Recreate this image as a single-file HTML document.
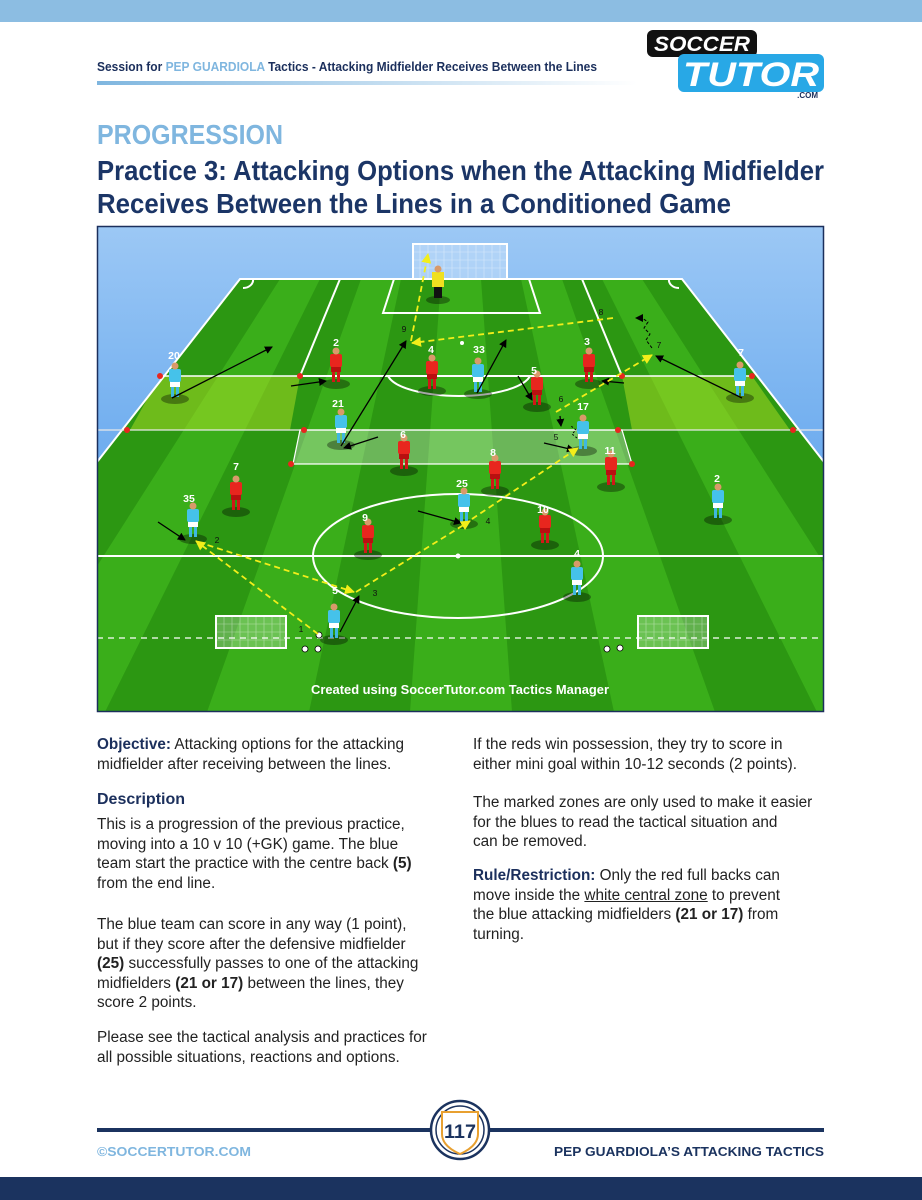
<!DOCTYPE html>
<html><head><meta charset="utf-8"><style>
body{margin:0;width:922px;height:1200px;position:relative;background:#fff;font-family:"Liberation Sans",sans-serif;overflow:hidden}
.p{position:absolute;font-size:15.3px;line-height:19.6px;color:#222;margin:0;white-space:nowrap}
.h{font-weight:bold;color:#1b2f5c}
</style></head><body>
<div style="position:absolute;left:0;top:0;width:922px;height:22px;background:#8cbde2"></div>
<div style="position:absolute;left:0;top:1177px;width:922px;height:23px;background:#1b335f"></div>
<svg width="922" height="1200" style="position:absolute;left:0;top:0">
<defs>
<linearGradient id="ul" x1="0" x2="1"><stop offset="0" stop-color="#7fb6df"/><stop offset="1" stop-color="#7fb6df" stop-opacity="0"/></linearGradient>
<linearGradient id="sky" x1="0" y1="0" x2="0" y2="1"><stop offset="0" stop-color="#9cc8f5"/><stop offset="1" stop-color="#3b8ee8"/></linearGradient>
<clipPath id="pc"><polygon points="240,279 682,279 824,462 824,712 97,712 97,462"/></clipPath>
<clipPath id="fr"><rect x="97" y="226" width="727" height="486"/></clipPath>
<g id="bp"><ellipse cx="0" cy="2" rx="14" ry="5" fill="rgba(0,0,0,.35)"/><rect x="-4" y="-11" width="3" height="11" fill="#3fb8e0"/><rect x="1" y="-11" width="3" height="11" fill="#3fb8e0"/><rect x="-5" y="-16" width="10" height="6" fill="#fff"/><rect x="-6" y="-28" width="12" height="13" rx="2" fill="#45c2ea"/><circle cx="0" cy="-31" r="3.5" fill="#d99a6a"/></g>
<g id="rp"><ellipse cx="0" cy="2" rx="14" ry="5" fill="rgba(0,0,0,.35)"/><rect x="-4" y="-11" width="3" height="11" fill="#d01818"/><rect x="1" y="-11" width="3" height="11" fill="#d01818"/><rect x="-5" y="-16" width="10" height="6" fill="#b81010"/><rect x="-6" y="-28" width="12" height="13" rx="2" fill="#e8261e"/><circle cx="0" cy="-31" r="3.5" fill="#d99a6a"/></g>
<marker id="ab" markerWidth="8" markerHeight="8" refX="7" refY="4" orient="auto" markerUnits="userSpaceOnUse"><path d="M0,0 L8,4 L0,8z" fill="#000"/></marker>
<marker id="ay" markerWidth="10" markerHeight="10" refX="9" refY="5" orient="auto" markerUnits="userSpaceOnUse"><path d="M0,0 L10,5 L0,10z" fill="#f2ee1a"/></marker>
</defs>
<text x="97" y="71" font-size="12.5" font-weight="bold" fill="#1b2f5c" textLength="500" lengthAdjust="spacingAndGlyphs">Session for <tspan fill="#7fb6df">PEP GUARDIOLA</tspan> Tactics - Attacking Midfielder Receives Between the Lines</text>
<rect x="97" y="81" width="540" height="4" fill="url(#ul)"/>
<rect x="647" y="30" width="110" height="27" rx="6" fill="#111"/>
<text x="702" y="51" font-size="21" font-weight="bold" font-style="italic" fill="#fff" text-anchor="middle" textLength="96" lengthAdjust="spacingAndGlyphs">SOCCER</text>
<rect x="678" y="54" width="146" height="38" rx="6" fill="#28a8e6"/>
<text x="751" y="86" font-size="34" font-weight="bold" font-style="italic" fill="#fff" text-anchor="middle" textLength="136" lengthAdjust="spacingAndGlyphs">TUTOR</text>
<text x="818" y="98" font-size="8" font-weight="bold" fill="#1b2f5c" text-anchor="end">.COM</text>
<text x="97" y="144" font-size="28" font-weight="bold" fill="#7fb6df" textLength="186" lengthAdjust="spacingAndGlyphs">PROGRESSION</text>
<text x="97" y="180" font-size="28" font-weight="bold" fill="#1b3566" textLength="727" lengthAdjust="spacingAndGlyphs">Practice 3: Attacking Options when the Attacking Midfielder</text>
<text x="97" y="213" font-size="28" font-weight="bold" fill="#1b3566" textLength="634" lengthAdjust="spacingAndGlyphs">Receives Between the Lines in a Conditioned Game</text>
<rect x="97" y="226" width="727" height="486" fill="url(#sky)"/>
<g clip-path="url(#fr)">
<g clip-path="url(#pc)">
<rect x="0" y="279" width="922" height="433" fill="#3aae1a"/>
<g fill="#2c9712">
<polygon points="79,279 119,279 -403,712 -505,712"/>
<polygon points="160,279 200,279 -200,712 -302,712"/>
<polygon points="240,279 280,279 4,712 -98,712"/>
<polygon points="320,279 361,279 207,712 105,712"/>
<polygon points="401,279 441,279 410,712 309,712"/>
<polygon points="481,279 521,279 614,712 512,712"/>
<polygon points="562,279 602,279 817,712 715,712"/>
<polygon points="642,279 682,279 1020,712 919,712"/>
<polygon points="722,279 763,279 1224,712 1122,712"/>
</g>
<polygon points="160,376 300,376 290,430 130,430" fill="rgba(190,230,40,.45)"/>
<polygon points="622,376 752,376 790,430 632,430" fill="rgba(190,230,40,.45)"/>
<polygon points="300,430 622,430 632,464 293,464" fill="rgba(255,255,255,.3)"/>
</g>
<g stroke="#fff" stroke-width="2" fill="none">
<polyline points="97,462 240,279 682,279 824,462"/>
<line x1="300" y1="376" x2="622" y2="376"/>
<line x1="340" y1="279" x2="300" y2="376"/>
<line x1="582" y1="279" x2="622" y2="376"/>
<line x1="160" y1="376" x2="300" y2="376" stroke-width="1.5"/>
<line x1="622" y1="376" x2="752" y2="376" stroke-width="1.5"/>
<polyline points="394,279 383,313 540,313 529,279"/>
<path d="M388,376 A72,24 0 0 0 530,376"/>
<line x1="97" y1="430" x2="824" y2="430" stroke-width="1.2" stroke="#e8e8e8"/>
<polygon points="300,430 622,430 632,464 293,464" stroke-width="1.2"/>
<line x1="97" y1="556" x2="824" y2="556"/>
<ellipse cx="458" cy="556" rx="145" ry="62"/>
<line x1="97" y1="638" x2="824" y2="638" stroke-dasharray="6,5" stroke-width="1.2"/>
<path d="M253,279 A10,8 0 0 1 243,288"/><path d="M669,279 A10,8 0 0 0 679,288"/>
</g>
<circle cx="458" cy="556" r="2.5" fill="#fff"/><circle cx="462" cy="343" r="2" fill="#fff"/>
<g stroke="#fff" fill="rgba(255,255,255,.25)">
<rect x="413" y="244" width="94" height="35" stroke-width="2"/>
<rect x="216" y="616" width="70" height="32" stroke-width="2"/>
<rect x="638" y="616" width="70" height="32" stroke-width="2"/>
</g>
<g stroke="rgba(255,255,255,.5)" stroke-width=".6">
<path d="M420,244v35M428,244v35M436,244v35M444,244v35M452,244v35M460,244v35M468,244v35M476,244v35M484,244v35M492,244v35M500,244v35M413,252h94M413,260h94M413,268h94"/>
<path d="M224,616v32M232,616v32M240,616v32M248,616v32M256,616v32M264,616v32M272,616v32M280,616v32M216,624h70M216,632h70M216,640h70"/>
<path d="M646,616v32M654,616v32M662,616v32M670,616v32M678,616v32M686,616v32M694,616v32M702,616v32M638,624h70M638,632h70M638,640h70"/>
</g>
<g fill="#e8261e"><circle cx="160" cy="376" r="3"/><circle cx="300" cy="376" r="3"/><circle cx="622" cy="376" r="3"/><circle cx="752" cy="376" r="3"/><circle cx="127" cy="430" r="3"/><circle cx="304" cy="430" r="3"/><circle cx="618" cy="430" r="3"/><circle cx="793" cy="430" r="3"/><circle cx="291" cy="464" r="3"/><circle cx="632" cy="464" r="3"/></g>
<g fill="#fff" stroke="#000" stroke-width=".8"><circle cx="319" cy="635" r="3"/><circle cx="305" cy="649" r="3"/><circle cx="318" cy="649" r="3"/><circle cx="607" cy="649" r="3"/><circle cx="620" cy="648" r="3"/></g>
<g transform="translate(438,298)"><ellipse cx="0" cy="2" rx="12" ry="4" fill="rgba(0,0,0,.35)"/><rect x="-4" y="-11" width="8" height="11" fill="#111"/><rect x="-6" y="-26" width="12" height="15" fill="#f0e020"/><circle cx="0" cy="-29" r="3.5" fill="#d99a6a"/></g>
<use href="#bp" x="175" y="397"/><use href="#bp" x="478" y="392"/><use href="#bp" x="740" y="396"/>
<use href="#bp" x="341" y="443"/><use href="#bp" x="583" y="449"/><use href="#bp" x="464" y="522"/>
<use href="#bp" x="193" y="537"/><use href="#bp" x="718" y="518"/><use href="#bp" x="577" y="595"/><use href="#bp" x="334" y="638"/>
<use href="#rp" x="336" y="382"/><use href="#rp" x="432" y="389"/><use href="#rp" x="537" y="405"/><use href="#rp" x="589" y="382"/>
<use href="#rp" x="404" y="469"/><use href="#rp" x="495" y="489"/><use href="#rp" x="611" y="485"/><use href="#rp" x="236" y="510"/>
<use href="#rp" x="368" y="553"/><use href="#rp" x="545" y="543"/>
<g fill="#fff" font-size="10.5" font-weight="bold" text-anchor="middle">
<text x="174" y="359">20</text><text x="336" y="346">2</text><text x="431" y="353">4</text><text x="479" y="353">33</text><text x="534" y="374">5</text><text x="587" y="345">3</text><text x="741" y="356">7</text>
<text x="338" y="407">21</text><text x="583" y="410">17</text><text x="403" y="438">6</text><text x="493" y="456">8</text><text x="610" y="454">11</text>
<text x="236" y="470">7</text><text x="462" y="487">25</text><text x="189" y="502">35</text><text x="717" y="482">2</text><text x="365" y="521">9</text><text x="543" y="513">10</text><text x="577" y="557">4</text><text x="335" y="594">5</text>
</g>
<g fill="#111" font-size="8.5" text-anchor="middle">
<text x="301" y="632">1</text><text x="217" y="543">2</text><text x="375" y="596">3</text><text x="488" y="524">4</text><text x="556" y="440">5</text><text x="561" y="402">6</text><text x="659" y="348">7</text><text x="601" y="315">8</text><text x="404" y="332">9</text>
</g>
<g stroke="#000" stroke-width="1.3" marker-end="url(#ab)">
<line x1="172" y1="398" x2="272" y2="347"/><line x1="291" y1="386" x2="326" y2="381"/>
<line x1="341" y1="446" x2="406" y2="341"/><line x1="378" y1="437" x2="344" y2="448"/>
<line x1="477" y1="393" x2="506" y2="340"/><line x1="518" y1="376" x2="532" y2="400"/>
<line x1="624" y1="383" x2="602" y2="381"/><line x1="742" y1="398" x2="656" y2="356"/>
<line x1="544" y1="443" x2="574" y2="450"/><line x1="560" y1="416" x2="561" y2="426"/>
<line x1="158" y1="522" x2="185" y2="540"/><line x1="418" y1="511" x2="461" y2="523"/>
<line x1="340" y1="632" x2="359" y2="596"/>
</g>
<path d="M652,348 l-6,-8 l4,-6 l-6,-6 l4,-6 l-6,-4 l-6,0" stroke="#000" stroke-width="1" stroke-dasharray="3,2" fill="none" marker-end="url(#ab)"/>
<path d="M577,438 l-5,-4 l4,-4 l-5,-4" stroke="#000" stroke-width="1" stroke-dasharray="2,2" fill="none"/>
<g stroke="#f2ee1a" stroke-width="1.8" stroke-dasharray="6,4" fill="none" marker-end="url(#ay)">
<line x1="318" y1="634" x2="196" y2="541"/><line x1="198" y1="542" x2="354" y2="592"/>
<line x1="356" y1="592" x2="470" y2="521"/><line x1="472" y1="519" x2="578" y2="448"/>
<line x1="556" y1="412" x2="652" y2="355"/><line x1="613" y1="318" x2="412" y2="343"/>
<line x1="411" y1="341" x2="428" y2="254"/>
</g>
<text x="460" y="694" font-size="12.5" font-weight="bold" fill="#fff" text-anchor="middle" textLength="298" lengthAdjust="spacingAndGlyphs">Created using SoccerTutor.com Tactics Manager</text>
</g>
<rect x="97.5" y="226.5" width="726" height="485" fill="none" stroke="#1b2f5c" stroke-width="1.5"/>
<rect x="97" y="1128" width="727" height="4" fill="#1b335f"/>
<circle cx="460" cy="1130" r="29" fill="#fff" stroke="#1b335f" stroke-width="2.5"/>
<circle cx="460" cy="1130" r="24" fill="none" stroke="#1b335f" stroke-width="1.5"/>
<path d="M442,1112 h36 v22 q0,12 -18,20 q-18,-8 -18,-20z" fill="#fff" stroke="#e8a030" stroke-width="2"/>
<text x="460" y="1138" font-size="19" font-weight="bold" fill="#1b335f" text-anchor="middle" textLength="32" lengthAdjust="spacingAndGlyphs">117</text>
<text x="97" y="1156" font-size="13" font-weight="bold" fill="#7fb6df" textLength="154" lengthAdjust="spacingAndGlyphs">©SOCCERTUTOR.COM</text>
<text x="824" y="1156" font-size="13" font-weight="bold" fill="#1b335f" text-anchor="end" textLength="270" lengthAdjust="spacingAndGlyphs">PEP GUARDIOLA’S ATTACKING TACTICS</text>
</svg>
<div class="p" style="left:97px;top:735px"><b class="h">Objective:</b> Attacking options for the attacking<br>midfielder after receiving between the lines.</div>
<div class="p" style="left:97px;top:790px"><b class="h" style="font-size:16px">Description</b></div>
<div class="p" style="left:97px;top:815px">This is a progression of the previous practice,<br>moving into a 10 v 10 (+GK) game. The blue<br>team start the practice with the centre back <b>(5)</b><br>from the end line.</div>
<div class="p" style="left:97px;top:915px">The blue team can score in any way (1 point),<br>but if they score after the defensive midfielder<br><b>(25)</b> successfully passes to one of the attacking<br>midfielders <b>(21 or 17)</b> between the lines, they<br>score 2 points.</div>
<div class="p" style="left:97px;top:1028px">Please see the tactical analysis and practices for<br>all possible situations, reactions and options.</div>
<div class="p" style="left:473px;top:735px">If the reds win possession, they try to score in<br>either mini goal within 10-12 seconds (2 points).</div>
<div class="p" style="left:473px;top:793px">The marked zones are only used to make it easier<br>for the blues to read the tactical situation and<br>can be removed.</div>
<div class="p" style="left:473px;top:866px"><b class="h">Rule/Restriction:</b> Only the red full backs can<br>move inside the <u>white central zone</u> to prevent<br>the blue attacking midfielders <b>(21 or 17)</b> from<br>turning.</div>
</body></html>
